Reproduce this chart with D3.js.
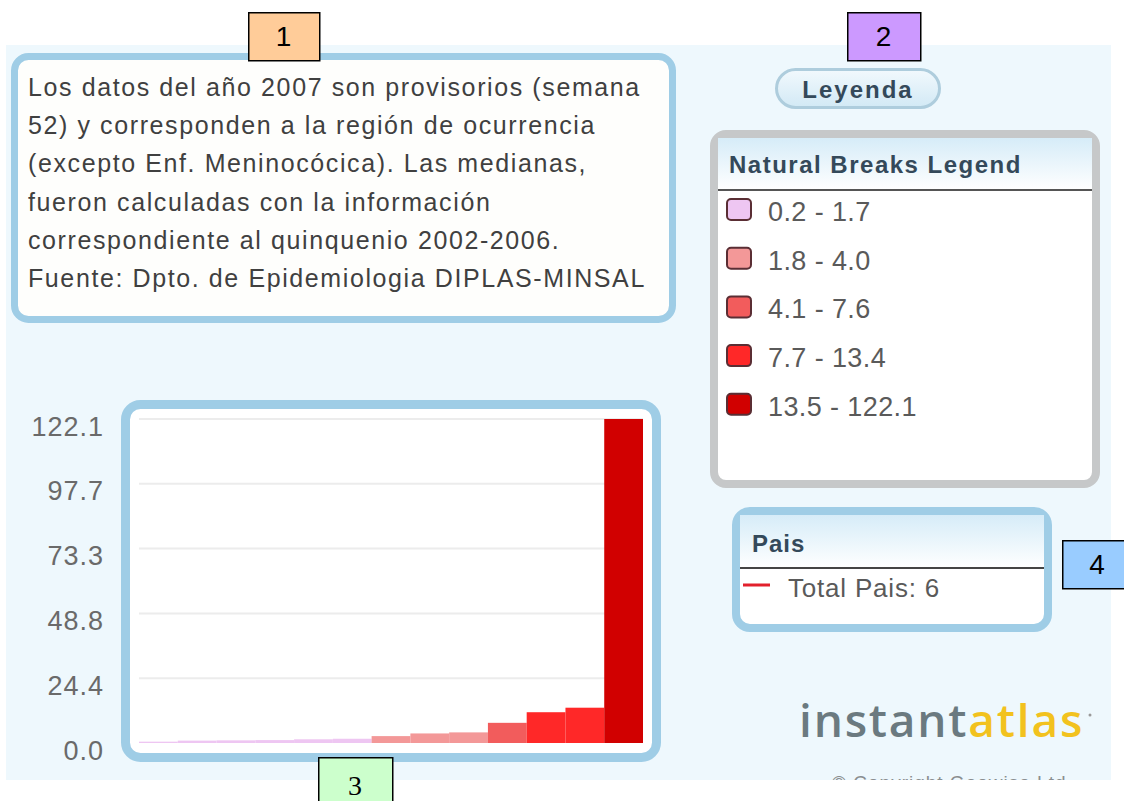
<!DOCTYPE html>
<html>
<head>
<meta charset="utf-8">
<script src="https://cdn.jsdelivr.net/npm/d3@7"></script>
<style>
  body { margin: 0; background: #fff; }
  svg { display: block; font-family: "Liberation Sans", Arial, sans-serif; }
</style>
</head>
<body>
<div id="graph"></div>
<script>
// chart data
var regions = ["1", "2", "3", "4", "5", "6", "7", "8", "9", "10", "11", "12", "13"];
var rates = [0.5, 0.9, 1.0, 1.1, 1.4, 1.6, 2.6, 3.6, 4.0, 7.6, 11.6, 13.3, 122.1];
var yTicks = [0, 24.4, 48.8, 73.3, 97.7, 122.1];
var breakLabels = ["0.2 - 1.7", "1.8 - 4.0", "4.1 - 7.6", "7.7 - 13.4", "13.5 - 122.1"];
var breakLimits = [1.8, 4.1, 7.7, 13.5];
var breakColors = ["#eec6f2", "#f39898", "#f25c5c", "#ff2828", "#d10000"];
var noteLines = [
  "Los datos del año 2007 son provisorios (semana",
  "52) y corresponden a la región de ocurrencia",
  "(excepto Enf. Meninocócica). Las medianas,",
  "fueron calculadas con la información",
  "correspondiente al quinquenio 2002-2006.",
  "Fuente: Dpto. de Epidemiologia DIPLAS-MINSAL"
];
var countryLabel = "Total Pais: 6";

var svgWidth = 1124, svgHeight = 801;

var svg = d3.select('#graph').append('svg')
  .attr("width", svgWidth)
  .attr("height", svgHeight);

var defs = svg.append("defs");
var hg = defs.append("linearGradient").attr("id", "headGrad")
  .attr("x1", 0).attr("y1", 0).attr("x2", 0).attr("y2", 1);
hg.append("stop").attr("offset", "0%").attr("stop-color", "#d6ecf8");
hg.append("stop").attr("offset", "100%").attr("stop-color", "#ffffff");
var bg = defs.append("linearGradient").attr("id", "btnGrad")
  .attr("x1", 0).attr("y1", 0).attr("x2", 0).attr("y2", 1);
bg.append("stop").attr("offset", "0%").attr("stop-color", "#f2f9fd");
bg.append("stop").attr("offset", "100%").attr("stop-color", "#d2e9f5");
defs.append("clipPath").attr("id", "panelClip")
  .append("rect").attr("x", 6).attr("y", 45).attr("width", 1105).attr("height", 735);

// light blue panel
svg.append("rect")
  .attr("x", 6).attr("y", 45).attr("width", 1105).attr("height", 735)
  .attr("fill", "#eef8fd");

// ---- note box
svg.append("rect")
  .attr("x", 14.5).attr("y", 56.5).attr("width", 658).attr("height", 263)
  .attr("rx", 14)
  .attr("fill", "#fefefc")
  .attr("stroke", "#9fcde6")
  .attr("stroke-width", 7);

svg.append("g").selectAll("text")
  .data(noteLines)
  .join("text")
  .attr("x", 28)
  .attr("y", function(d, i) { return 96 + i * 38.2; })
  .attr("font-size", 25)
  .attr("letter-spacing", 1.6)
  .attr("fill", "#404040")
  .text(function(d) { return d; });

// ---- bar chart
var x = d3.scaleBand().domain(regions).range([139, 643]).padding(0);
var y = d3.scaleLinear().domain([0, 122.1]).range([743, 419]);
var color = d3.scaleThreshold().domain(breakLimits).range(breakColors);

svg.append("rect")
  .attr("x", 125.5).attr("y", 404.5).attr("width", 531).attr("height", 353)
  .attr("rx", 15)
  .attr("fill", "#ffffff")
  .attr("stroke", "#9fcde6")
  .attr("stroke-width", 9);

svg.append("g").selectAll("line")
  .data(yTicks.slice(1))
  .join("line")
  .attr("x1", 139).attr("x2", 643)
  .attr("y1", function(d) { return y(d); })
  .attr("y2", function(d) { return y(d); })
  .attr("stroke", "#ececec")
  .attr("stroke-width", 2);

svg.append("g").selectAll("rect")
  .data(rates)
  .join("rect")
  .attr("x", function(d, i) { return x(regions[i]); })
  .attr("width", x.bandwidth())
  .attr("y", function(d) { return y(d); })
  .attr("height", function(d) { return y(0) - y(d); })
  .attr("fill", function(d) { return color(d); });

var yAxis = svg.append("g")
  .attr("transform", "translate(104,0)")
  .call(d3.axisLeft(y).tickValues(yTicks).tickFormat(d3.format(".1f")).tickSize(0).tickPadding(0));
yAxis.select(".domain").remove();
yAxis.selectAll("text")
  .attr("font-family", "'Liberation Sans', Arial, sans-serif")
  .attr("font-size", 27)
  .attr("letter-spacing", 1)
  .attr("fill", "#6a6a6a")
  .attr("dy", "0.6em");

// ---- Leyenda button
svg.append("rect")
  .attr("x", 776.5).attr("y", 69.5).attr("width", 163).attr("height", 38)
  .attr("rx", 19)
  .attr("fill", "url(#btnGrad)")
  .attr("stroke", "#aecddd")
  .attr("stroke-width", 3);
svg.append("text")
  .attr("x", 858).attr("y", 98)
  .attr("text-anchor", "middle")
  .attr("font-size", 24).attr("font-weight", "bold")
  .attr("letter-spacing", 2)
  .attr("fill", "#34495a")
  .text("Leyenda");

// ---- natural breaks legend
svg.append("rect")
  .attr("x", 714).attr("y", 134).attr("width", 382).attr("height", 350)
  .attr("rx", 12)
  .attr("fill", "#ffffff")
  .attr("stroke", "#c6c8c9")
  .attr("stroke-width", 8);
svg.append("rect")
  .attr("x", 718).attr("y", 138).attr("width", 374).attr("height", 52)
  .attr("fill", "url(#headGrad)");
svg.append("line")
  .attr("x1", 718).attr("x2", 1092).attr("y1", 190).attr("y2", 190)
  .attr("stroke", "#555").attr("stroke-width", 2);
svg.append("text")
  .attr("x", 729).attr("y", 173)
  .attr("font-size", 24).attr("font-weight", "bold")
  .attr("letter-spacing", 1.5)
  .attr("fill", "#34495a")
  .text("Natural Breaks Legend");

var items = svg.append("g").selectAll("g")
  .data(breakLabels)
  .join("g")
  .attr("transform", function(d, i) { return "translate(0," + (221 + i * 48.7) + ")"; });
items.append("rect")
  .attr("x", 727).attr("y", -22).attr("width", 24).attr("height", 21)
  .attr("rx", 4)
  .attr("fill", function(d, i) { return breakColors[i]; })
  .attr("stroke", "#5a2e34")
  .attr("stroke-width", 2);
items.append("text")
  .attr("x", 768).attr("y", 0)
  .attr("font-size", 27)
  .attr("letter-spacing", 0.4)
  .attr("fill", "#5a5a5a")
  .text(function(d) { return d; });

// ---- Pais legend
svg.append("rect")
  .attr("x", 736).attr("y", 511).attr("width", 312).attr("height", 117)
  .attr("rx", 14)
  .attr("fill", "#ffffff")
  .attr("stroke", "#9fcde6")
  .attr("stroke-width", 8);
svg.append("rect")
  .attr("x", 740).attr("y", 515).attr("width", 304).attr("height", 53)
  .attr("fill", "url(#headGrad)");
svg.append("line")
  .attr("x1", 740).attr("x2", 1044).attr("y1", 568).attr("y2", 568)
  .attr("stroke", "#444").attr("stroke-width", 2);
svg.append("text")
  .attr("x", 752).attr("y", 552)
  .attr("font-size", 24).attr("font-weight", "bold")
  .attr("letter-spacing", 1)
  .attr("fill", "#34495a")
  .text("Pais");
svg.append("line")
  .attr("x1", 743).attr("x2", 770).attr("y1", 585).attr("y2", 585)
  .attr("stroke", "#e2202c").attr("stroke-width", 3);
svg.append("text")
  .attr("x", 788).attr("y", 597)
  .attr("font-size", 26)
  .attr("letter-spacing", 0.8)
  .attr("fill", "#5a5a5a")
  .text(countryLabel);

// ---- logo
var logo = svg.append("text")
  .attr("x", 799).attr("y", 737)
  .attr("font-family", "'Open Sans', sans-serif")
  .attr("font-size", 46).attr("font-weight", 600)
  .attr("letter-spacing", 1.8);
logo.append("tspan").attr("fill", "#6b7a80").text("instant");
logo.append("tspan").attr("fill", "#f2c21e").text("atlas");
svg.append("circle").attr("cx", 1090).attr("cy", 715).attr("r", 1.5).attr("fill", "#999");
svg.append("text")
  .attr("clip-path", "url(#panelClip)")
  .attr("x", 832).attr("y", 789)
  .attr("font-size", 19)
  .attr("letter-spacing", 1)
  .attr("fill", "#8a8e90")
  .text("© Copyright Geowise Ltd");

// ---- numbered tags
var tags = [
  {t: "1", x: 248, y: 12, w: 71, h: 48, c: "#ffcc99", f: "'Liberation Sans', Arial, sans-serif"},
  {t: "2", x: 847, y: 12, w: 73, h: 48, c: "#cc99ff", f: "'Liberation Sans', Arial, sans-serif"},
  {t: "3", x: 318, y: 757, w: 74, h: 50, c: "#ccffcc", f: "'Liberation Serif', 'Times New Roman', serif"},
  {t: "4", x: 1062, y: 540, w: 70, h: 48, c: "#99ccff", f: "'Liberation Sans', Arial, sans-serif"}
];
var tg = svg.append("g").selectAll("g").data(tags).join("g");
tg.append("rect")
  .attr("x", function(d) { return d.x + 0.75; })
  .attr("y", function(d) { return d.y + 0.75; })
  .attr("width", function(d) { return d.w; })
  .attr("height", function(d) { return d.h; })
  .attr("fill", function(d) { return d.c; })
  .attr("stroke", "#000")
  .attr("stroke-width", 1.5);
tg.append("text")
  .attr("x", function(d) { return d.x + d.w / 2; })
  .attr("y", function(d) { return d.t === "3" ? d.y + 38 : d.y + d.h / 2 + 10; })
  .attr("text-anchor", "middle")
  .attr("font-family", function(d) { return d.f; })
  .attr("font-size", 28)
  .attr("fill", "#000")
  .text(function(d) { return d.t; });
</script>
</body>
</html>
